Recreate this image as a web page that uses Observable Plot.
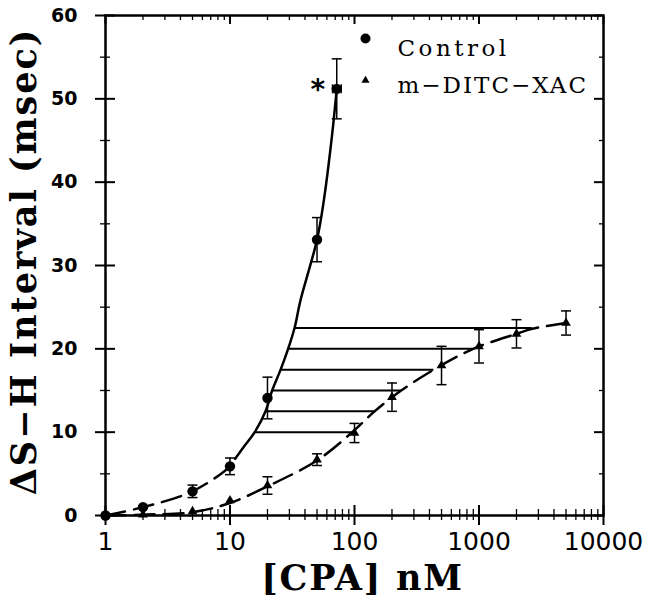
<!DOCTYPE html>
<html><head><meta charset="utf-8">
<script src="https://cdn.jsdelivr.net/npm/d3@7"></script>
<script src="https://cdn.jsdelivr.net/npm/@observablehq/plot@0.6"></script>
<style>
html,body{margin:0;padding:0;background:#fff;}
#chart svg{display:block;background:#fff;}
</style>
</head><body><div id="chart"></div>
<script>
// ---- data ----
const ctrlX   = [1, 2, 5, 10, 20, 50, 72];
const ctrlY   = [0, 1.0, 2.9, 5.9, 14.1, 33.1, 51.2];
const ctrlErr = [0, 0, 0.75, 1.0, 2.5, 2.65, 3.6];
const ctrlLastXErr = [66.6, 78.2];

const xacX   = [1, 2, 5, 10, 20, 50, 100, 200, 500, 1000, 2000, 5000];
const xacY   = [0, 0.1, 0.5, 1.8, 3.6, 6.7, 9.9, 14.2, 18.0, 20.3, 21.8, 23.1];
const xacErr = [0, 0, 0, 0, 1.05, 0.7, 1.15, 1.7, 2.3, 2.0, 1.7, 1.45];

// fitted curves
const ctrlDashX  = [1, 2, 5, 10, 11];
const ctrlDashY  = [0, 1.0, 2.9, 5.9, 6.8];
const ctrlSolidX = [11, 13, 15.8, 19.3, 21.8, 25.5, 29.3, 33, 36.8, 50, 56.7, 66.2, 72];
const ctrlSolidY = [6.8, 8.3, 10, 12.5, 15, 17.5, 20, 22.5, 25.8, 33.1, 37.8, 45.8, 51.2];
const xacCurveX  = [1, 2, 5, 10, 20, 50, 96, 145, 237, 434, 898, 2000, 2675, 5000];
const xacCurveY  = [0, 0.1, 0.4, 1.5, 3.5, 6.6, 10, 12.5, 15, 17.5, 20, 21.8, 22.4, 23.1];

// dose-ratio horizontal lines
const levelY  = [10, 12.5, 15, 17.5, 20, 22.5];
const levelX1 = [15.8, 19.3, 21.8, 25.5, 29.3, 33];
const levelX2 = [96, 145, 237, 434, 898, 2675];

// ticks & labels
const xMajor = [1, 10, 100, 1000, 10000];
const xMinor = [2,3,4,5,6,7,8,9, 20,30,40,50,60,70,80,90, 200,300,400,500,600,700,800,900, 2000,3000,4000,5000,6000,7000,8000,9000];
const xTickLabels = ["1", "10", "100", "1000", "10000"];
const yMajor = [0, 10, 20, 30, 40, 50, 60];
const yMinor = [5, 15, 25, 35, 45, 55];
const yTickLabels = ["0", "10", "20", "30", "40", "50", "60"];
const seriesNames = ["Control", "m\u2212DITC\u2212XAC"];
const xTitle = "[CPA] nM";
const yTitle = "\u0394S\u2212H Interval (msec)";
const asterisk = "*";

// ---- tables ----
const ctrl = ctrlX.map((x, i) => ({x, y: ctrlY[i], e: ctrlErr[i]}));
const xac = xacX.map((x, i) => ({x, y: xacY[i], e: xacErr[i]}));
const ctrlDash = ctrlDashX.map((x, i) => ({x, y: ctrlDashY[i]}));
const ctrlSolid = ctrlSolidX.map((x, i) => ({x, y: ctrlSolidY[i]}));
const xacCurve = xacCurveX.map((x, i) => ({x, y: xacCurveY[i]}));
const levels = levelY.map((y, i) => ({y, x1: levelX1[i], x2: levelX2[i]}));
const errs = [...ctrl, ...xac].filter(d => d.e > 0);
const lastCtrl = [{y: ctrlY[ctrlY.length - 1], x: ctrlX[ctrlX.length - 1], x1: ctrlLastXErr[0], x2: ctrlLastXErr[1]}];
const xLabs = xMajor.map((x, i) => ({x, t: xTickLabels[i]}));
const yLabs = yMajor.map((y, i) => ({y, t: yTickLabels[i]}));

const hCap = {draw(ctx, size) { const w = Math.sqrt(size / Math.PI); ctx.moveTo(-w, 0); ctx.lineTo(w, 0); }};
const vCap = {draw(ctx, size) { const w = Math.sqrt(size / Math.PI); ctx.moveTo(0, -w); ctx.lineTo(0, w); }};

const sans = "DejaVu Sans";
const serif = "DejaVu Serif";

const chart = Plot.plot({
  width: 645, height: 614,
  marginLeft: 105, marginRight: 42, marginTop: 15, marginBottom: 99,
  style: {background: "#fff", overflow: "visible"},
  x: {type: "log", domain: [1, 10000], axis: null},
  y: {domain: [0, 60], axis: null},
  marks: [
    Plot.frame({stroke: "black", strokeWidth: 2.5}),
    // bottom ticks (crossing)
    Plot.axisX({anchor: "bottom", ticks: xMajor, tickSize: 20, dy: -10, tickFormat: () => "", label: null, strokeWidth: 2}),
    Plot.axisX({anchor: "bottom", ticks: xMinor, tickSize: 11, dy: -6, tickFormat: () => "", label: null, strokeWidth: 1.3}),
    // top ticks (inward)
    Plot.axisX({anchor: "top", ticks: xMajor, tickSize: 8, dy: 8, tickFormat: () => "", label: null, strokeWidth: 2}),
    Plot.axisX({anchor: "top", ticks: xMinor, tickSize: 4, dy: 4, tickFormat: () => "", label: null, strokeWidth: 1.3}),
    // left ticks (crossing)
    Plot.axisY({anchor: "left", ticks: yMajor, tickSize: 20, dx: 10, tickFormat: () => "", label: null, strokeWidth: 2}),
    Plot.axisY({anchor: "left", ticks: yMinor, tickSize: 10, dx: 5, tickFormat: () => "", label: null, strokeWidth: 1.3}),
    // right ticks (inward)
    Plot.axisY({anchor: "right", ticks: yMajor, tickSize: 10, dx: -10, tickFormat: () => "", label: null, strokeWidth: 2}),
    Plot.axisY({anchor: "right", ticks: yMinor, tickSize: 5, dx: -5, tickFormat: () => "", label: null, strokeWidth: 1.3}),

    // dose ratio lines
    Plot.ruleY(levels, {y: "y", x1: "x1", x2: "x2", stroke: "black", strokeWidth: 2}),

    // curves
    Plot.line(ctrlDash, {x: "x", y: "y", curve: "catmull-rom", stroke: "black", strokeWidth: 2.5, strokeDasharray: "20,9"}),
    Plot.line(ctrlSolid, {x: "x", y: "y", curve: "catmull-rom", stroke: "black", strokeWidth: 2.5}),
    Plot.line(xacCurve, {x: "x", y: "y", curve: "catmull-rom", stroke: "black", strokeWidth: 2.5, strokeDasharray: "20,9"}),

    // error bars
    Plot.ruleX(errs, {x: "x", y1: d => d.y - d.e, y2: d => d.y + d.e, stroke: "black", strokeWidth: 1.5}),
    Plot.dot(errs, {x: "x", y: d => d.y - d.e, symbol: hCap, r: 5, stroke: "black", fill: "none", strokeWidth: 1.5}),
    Plot.dot(errs, {x: "x", y: d => d.y + d.e, symbol: hCap, r: 5, stroke: "black", fill: "none", strokeWidth: 1.5}),
    Plot.ruleY(lastCtrl, {y: "y", x1: "x1", x2: "x2", stroke: "black", strokeWidth: 1.5}),
    Plot.dot(lastCtrl, {x: "x1", y: "y", symbol: vCap, r: 4.5, stroke: "black", fill: "none", strokeWidth: 1.5}),
    Plot.dot(lastCtrl, {x: "x2", y: "y", symbol: vCap, r: 4.5, stroke: "black", fill: "none", strokeWidth: 1.5}),

    // data points
    Plot.dot(xac, {x: "x", y: "y", symbol: "triangle", r: 3.6, fill: "black", stroke: "none"}),
    Plot.dot(ctrl, {x: "x", y: "y", symbol: "circle", r: 5.2, fill: "black", stroke: "none"}),

    // asterisk
    Plot.text(lastCtrl, {x: "x", y: "y", text: () => asterisk, dx: -19, dy: 1, fontSize: 28, fontFamily: sans, fontWeight: "bold", fill: "black"}),

    // tick labels
    Plot.text(xLabs, {x: "x", text: "t", frameAnchor: "bottom", dy: 34, fontSize: 25, fontFamily: sans, fill: "black"}),
    Plot.text(yLabs, {y: "y", text: "t", frameAnchor: "left", dx: -28, textAnchor: "end", fontSize: 19, fontWeight: "bold", fontFamily: sans, fill: "black"}),

    // axis titles
    Plot.text([xTitle], {text: d => d, frameAnchor: "bottom", dx: 8, dy: 74, fontSize: 35, fontWeight: "bold", fontFamily: serif, fill: "black"}),
    Plot.text([yTitle], {text: d => d, frameAnchor: "left", textAnchor: "middle", rotate: -90, dx: -81, dy: -4, fontSize: 35, fontWeight: "bold", fontFamily: serif, fill: "black"}),

    // legend
    Plot.dot([seriesNames[0]], {frameAnchor: "top-left", dx: 260, dy: 23, symbol: "circle", r: 5, fill: "black", stroke: "none"}),
    Plot.text([seriesNames[0]], {text: d => d, frameAnchor: "top-left", dx: 292, dy: 24, textAnchor: "start", fontSize: 23, fontFamily: serif, fill: "black"}),
    Plot.dot([seriesNames[1]], {frameAnchor: "top-left", dx: 260, dy: 65, symbol: "triangle", r: 3, fill: "black", stroke: "none"}),
    Plot.text([seriesNames[1]], {text: d => d, frameAnchor: "top-left", dx: 292, dy: 61, textAnchor: "start", fontSize: 23, fontFamily: serif, fill: "black"})
  ]
});

// letter spacing to match the wide typewriter-like lettering
const spacing = new Map([[xTitle, "1.8px"], [yTitle, "2px"], [seriesNames[0], "3.5px"], [seriesNames[1], "2px"]]);
d3.select(chart).selectAll("text").each(function() {
  const s = this.textContent;
  if (spacing.has(s)) this.setAttribute("letter-spacing", spacing.get(s));
});
document.getElementById("chart").appendChild(chart);
</script>
</body></html>
